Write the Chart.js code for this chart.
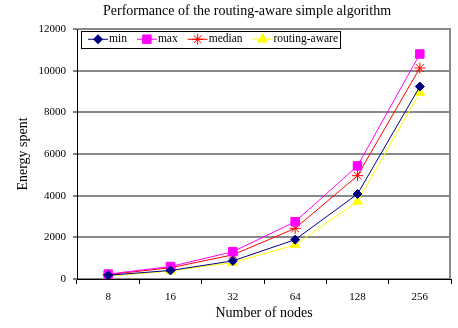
<!DOCTYPE html>
<html>
<head>
<meta charset="utf-8">
<script src="https://cdn.jsdelivr.net/npm/chart.js@4.4.0/dist/chart.umd.min.js"></script>
<style>
  html, body { margin: 0; padding: 0; background: #fff; }
  #wrap { width: 458px; height: 328px; position: relative; }
</style>
</head>
<body>
<div id="wrap"><canvas id="c" width="458" height="328"></canvas></div>
<script>
const categories = ['8', '16', '32', '64', '128', '256'];
const minValues = [180, 410, 870, 1890, 4080, 9240];
const maxValues = [235, 600, 1310, 2750, 5430, 10800];
const medianValues = [210, 540, 1160, 2430, 4960, 10130];
const routingAwareValues = [140, 390, 790, 1640, 3720, 8950];
const yTicks = [0, 2000, 4000, 6000, 8000, 10000, 12000];

const serif = '"Liberation Serif", "Times New Roman", "DejaVu Serif", serif';

function drawMarker(ctx, ds, x, y) {
  const opts = {
    pointStyle: ds.pointStyle,
    radius: ds.pointRadius,
    rotation: 0,
    borderWidth: 1
  };
  ctx.save();
  ctx.fillStyle = ds.backgroundColor;
  ctx.strokeStyle = ds.borderColor;
  ctx.lineWidth = 1;
  Chart.helpers.drawPoint(ctx, opts, x, y);
  ctx.restore();
}

const insideLegend = {
  id: 'insideLegend',
  afterDraw(chart) {
    const ctx = chart.ctx;
    const area = chart.chartArea;
    const bx = area.left + 4, by = area.top + 1.5, bh = 16.5;
    ctx.save();
    ctx.font = '11.5px ' + serif;
    let x = bx + 7;
    const items = [];
    chart.data.datasets.forEach(ds => {
      const tw = ctx.measureText(ds.label).width;
      items.push({ ds, x, tw });
      x += 20 + 1 + tw + 10;
    });
    const bw = x - 10 + 2 - bx;
    ctx.fillStyle = '#fff';
    ctx.fillRect(bx, by, bw, bh);
    ctx.strokeStyle = '#000';
    ctx.lineWidth = 1;
    ctx.strokeRect(Math.round(bx) + 0.5, Math.round(by) + 0.5, Math.round(bw), Math.round(bh));
    const cy = by + bh / 2 + 0.5;
    items.forEach(it => {
      ctx.strokeStyle = it.ds.borderColor;
      ctx.lineWidth = 1;
      ctx.beginPath();
      ctx.moveTo(it.x, cy);
      ctx.lineTo(it.x + 20, cy);
      ctx.stroke();
      drawMarker(ctx, it.ds, it.x + 10, cy);
      ctx.fillStyle = '#000';
      ctx.textBaseline = 'middle';
      ctx.textAlign = 'left';
      ctx.fillText(it.ds.label, it.x + 21, cy);
    });
    ctx.restore();
  }
};

const rightBorder = {
  id: 'rightBorder',
  beforeDatasetsDraw(chart) {
    const ctx = chart.ctx;
    const a = chart.chartArea;
    ctx.save();
    ctx.strokeStyle = '#888888';
    ctx.lineWidth = 2;
    ctx.beginPath();
    ctx.moveTo(Math.round(a.right) - 1, a.top);
    ctx.lineTo(Math.round(a.right) - 1, a.bottom);
    ctx.stroke();
    ctx.restore();
  }
};

new Chart(document.getElementById('c'), {
  type: 'line',
  data: {
    labels: categories,
    datasets: [
      { label: 'min', data: minValues, borderColor: '#000080', backgroundColor: '#000080',
        pointStyle: 'rectRot', pointRadius: 4.5, pointBorderWidth: 1, borderWidth: 1 },
      { label: 'max', data: maxValues, borderColor: '#FF00FF', backgroundColor: '#FF00FF',
        pointStyle: 'rect', pointRadius: 6, pointBorderWidth: 1, borderWidth: 1 },
      { label: 'median', data: medianValues, borderColor: '#FF0000', backgroundColor: '#FF0000',
        pointStyle: 'star', pointRadius: 5.5, pointBorderWidth: 1, borderWidth: 1 },
      { label: 'routing-aware', data: routingAwareValues, borderColor: '#FFFF00', backgroundColor: '#FFFF00',
        pointStyle: 'triangle', pointRadius: 5.5, pointBorderWidth: 1, borderWidth: 1 }
    ]
  },
  options: {
    responsive: false,
    animation: false,
    devicePixelRatio: 1,
    layout: { padding: { left: 39, right: 3, top: 0, bottom: 0 } },
    elements: { line: { tension: 0 } },
    plugins: {
      legend: { display: false },
      tooltip: { enabled: false },
      title: {
        display: true,
        text: 'Performance of the routing-aware simple algorithm',
        color: '#000',
        font: { family: serif, size: 14, weight: 'normal' },
        padding: { top: 2.5, bottom: 9.7 }
      }
    },
    scales: {
      x: {
        type: 'category',
        offset: true,
        grid: { offset: true, drawOnChartArea: false, drawTicks: true, tickLength: 5, tickColor: '#000' },
        border: { color: '#000', width: 1 },
        ticks: { color: '#000', font: { family: serif, size: 11 }, padding: 7, maxRotation: 0 },
        title: { display: true, text: 'Number of nodes', color: '#000',
                 font: { family: serif, size: 14 }, padding: { top: 0, bottom: 6.6 } },
        afterFit(s) { s.height = 49; }
      },
      y: {
        min: 0, max: 12000,
        afterBuildTicks(s) { s.ticks = yTicks.map(v => ({ value: v })); },
        grid: { color: '#888888', lineWidth: 2, drawTicks: true, tickLength: 4, tickColor: '#000', tickWidth: 1 },
        border: { color: '#000', width: 1 },
        ticks: { color: '#000', font: { family: serif, size: 11 }, padding: 7,
                 callback: (v) => String(v) },
        title: { display: true, text: 'Energy spent', color: '#000',
                 font: { family: serif, size: 14 }, padding: { top: -24.4, bottom: 0 } },
        afterFit(s) { s.width = 38; }
      }
    }
  },
  plugins: [insideLegend, rightBorder]
});
</script>
</body>
</html>
